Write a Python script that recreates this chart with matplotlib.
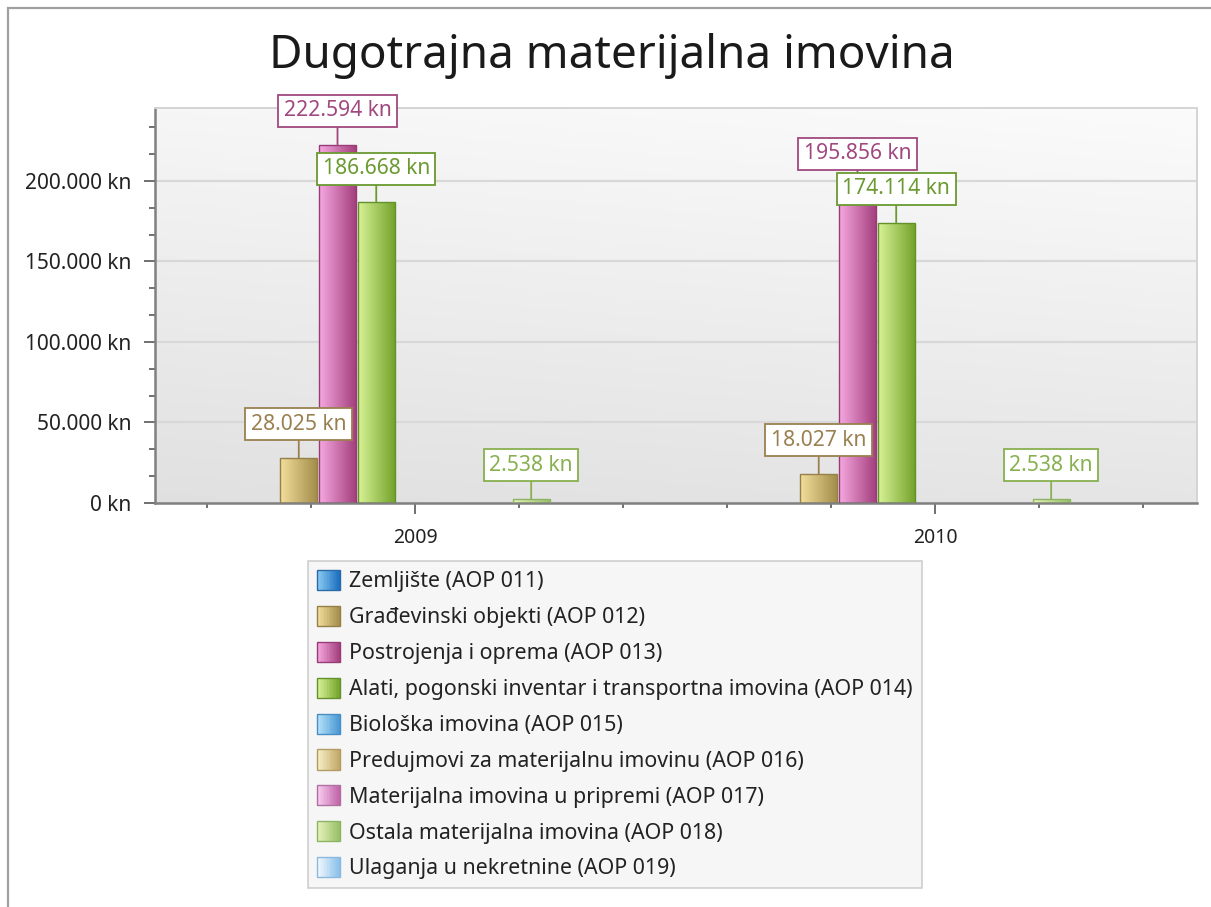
import numpy as np
import matplotlib
matplotlib.use("Agg")
import matplotlib.pyplot as plt
from matplotlib.patches import Rectangle, Patch
from matplotlib.legend_handler import HandlerBase
from matplotlib.ticker import FuncFormatter, MultipleLocator, FixedLocator
from matplotlib.colors import to_rgb

plt.rcParams['font.family'] = ['Noto Sans', 'DejaVu Sans']

# ---------------- data ----------------
title = "Dugotrajna materijalna imovina"
categories = ["2009", "2010"]
series_names = [
    "Zemljište (AOP 011)",
    "Građevinski objekti (AOP 012)",
    "Postrojenja i oprema (AOP 013)",
    "Alati, pogonski inventar i transportna imovina (AOP 014)",
    "Biološka imovina (AOP 015)",
    "Predujmovi za materijalnu imovinu (AOP 016)",
    "Materijalna imovina u pripremi (AOP 017)",
    "Ostala materijalna imovina (AOP 018)",
    "Ulaganja u nekretnine (AOP 019)",
]
zemljiste = [0, 0]
gradjevinski = [28025, 18027]
postrojenja = [222594, 195856]
alati = [186668, 174114]
bioloska = [0, 0]
predujmovi = [0, 0]
u_pripremi = [0, 0]
ostala = [2538, 2538]
ulaganja = [0, 0]
series_values = [zemljiste, gradjevinski, postrojenja, alati, bioloska,
                 predujmovi, u_pripremi, ostala, ulaganja]

# (left colour, right colour, edge colour, label colour)
styles = [
    ('#8ccbf2', '#1a6fc0', '#2a6aa8', '#2a6aa8'),
    ('#f3de9c', '#a48e4c', '#948048', '#9a8050'),
    ('#f6a8e0', '#a4407e', '#983c78', '#a0487e'),
    ('#d8f296', '#74a42c', '#64922a', '#6a9a30'),
    ('#b6e3f8', '#4a98d4', '#4a8cc4', '#4a8cc4'),
    ('#f8f0c6', '#c2a866', '#b29c66', '#b29c66'),
    ('#f8cef0', '#c064a8', '#b070a0', '#b070a0'),
    ('#e6f2ba', '#98c068', '#8cb464', '#88b050'),
    ('#f2f9fe', '#88c0ea', '#8cb8e0', '#8cb8e0'),
]

W, H, DPI = 1211, 907, 100
fig = plt.figure(figsize=(W / DPI, H / DPI), dpi=DPI)
fig.patch.set_facecolor('white')

def px(x0, y0, x1, y1):
    return [x0 / W, 1 - y1 / H, (x1 - x0) / W, (y1 - y0) / H]

# outer frame
fig.patches.append(Rectangle((8 / W, -0.1), 1.2, 1 - 8 / H + 0.1, transform=fig.transFigure,
                             fill=False, ec='#a0a0a0', lw=1.6, zorder=0))

pos = px(155, 108, 1197, 503)
bgax = fig.add_axes(pos, zorder=0)
yy, xx = np.mgrid[0:1:200j, 0:1:200j]
bgval = 0.985 - 0.085 * yy - 0.02 * (1 - xx)
bgax.imshow(np.dstack([bgval] * 3), extent=(0, 1, 0, 1), aspect='auto', origin='upper')
bgax.axis('off')

ax = fig.add_axes(pos, zorder=1)
ax.patch.set_alpha(0)

n = len(series_names)
slot = 0.0745
bw = 0.071
x = np.arange(len(categories))

def mix(c1, c2, t):
    a, b = np.array(to_rgb(c1)), np.array(to_rgb(c2))
    return a + (b - a) * t

for i, (vals, st) in enumerate(zip(series_values, styles)):
    off = (i - (n - 1) / 2) * slot
    lws = [1.0 if v > 0 else 0.0 for v in vals]
    bars = ax.bar(x + off, vals, width=bw, facecolor='none', edgecolor=st[2],
                  linewidth=lws, zorder=3)
    for b, v in zip(bars, vals):
        if v <= 0:
            continue
        x0, y0 = b.get_xy()
        grad = np.array([[mix(st[0], st[1], t) for t in np.linspace(0, 1, 64)]])
        im = ax.imshow(grad, extent=(x0, x0 + b.get_width(), y0, y0 + b.get_height()),
                       aspect='auto', zorder=2, interpolation='bilinear')
        im.set_clip_path(b)
        lab = f"{int(v):,}".replace(',', '.') + " kn"
        ax.annotate(lab, xy=(b.get_x() + b.get_width() / 2, v), xytext=(0, 16.8),
                    textcoords='offset points', ha='center', va='bottom',
                    fontsize=15.2, color=st[3], zorder=6,
                    bbox=dict(boxstyle='square,pad=0.26', fc='white', ec=st[3], lw=1.3),
                    arrowprops=dict(arrowstyle='-', color=st[3], lw=1.3,
                                    shrinkA=0, shrinkB=0))

ax.set_xlim(-0.5, 1.504)
ax.set_ylim(0, 245300)
ax.set_xticks(x)
ax.set_xticklabels(categories)
ax.xaxis.set_minor_locator(FixedLocator([-0.4, -0.2, 0.2, 0.4, 0.6, 0.8, 1.2, 1.4]))
ax.yaxis.set_major_locator(MultipleLocator(50000))
ax.yaxis.set_minor_locator(MultipleLocator(50000 / 3))
ax.yaxis.set_major_formatter(FuncFormatter(lambda v, p: f"{int(round(v)):,}".replace(',', '.') + " kn"))

ax.grid(axis='y', which='major', color='#d8d8d8', lw=1.6, zorder=1)
ax.set_axisbelow(True)

for s in ['left', 'bottom']:
    ax.spines[s].set_color('#808080')
    ax.spines[s].set_linewidth(1.8)
for s in ['top', 'right']:
    ax.spines[s].set_color('#d4d4d4')
    ax.spines[s].set_linewidth(1.4)

ax.tick_params(axis='y', which='major', length=8, width=1.4, color='#707070',
               labelsize=15, labelcolor='#222222', pad=9)
ax.tick_params(axis='y', which='minor', length=4, width=1.4, color='#707070')
ax.tick_params(axis='x', which='major', length=8, width=1.4, color='#707070',
               labelsize=14, labelcolor='#222222', pad=10)
ax.tick_params(axis='x', which='minor', length=3.5, width=1.4, color='#707070')

fig.text(612 / W, 1 - 68 / H, title, ha='center', va='baseline', fontsize=33, color='#1a1a1a')

# legend with gradient swatches
class GradHandler(HandlerBase):
    def __init__(self, c1, c2, ec):
        super().__init__()
        self.c1, self.c2, self.ec = c1, c2, ec

    def create_artists(self, legend, orig_handle, xdescent, ydescent, width, height, fontsize, trans):
        arts = []
        m = 16
        for k in range(m):
            arts.append(Rectangle((-xdescent + k * width / m, -ydescent), width / m + 0.3, height,
                                  fc=mix(self.c1, self.c2, k / (m - 1)), ec='none', transform=trans))
        arts.append(Rectangle((-xdescent, -ydescent), width, height, fill=False,
                              ec=self.ec, lw=1.0, transform=trans))
        return arts

handles = [Patch(label=nm) for nm in series_names]
hmap = {h: GradHandler(st[0], st[1], st[2]) for h, st in zip(handles, styles)}
leg_fs = 15.4
leg_px = leg_fs * DPI / 72
leg = fig.legend(handles=handles, handler_map=hmap, loc='upper left',
                 bbox_to_anchor=(308 / W, 1 - 561 / H), borderaxespad=0,
                 fontsize=leg_fs, frameon=True, fancybox=False,
                 handlelength=23 / leg_px, handleheight=23 / leg_px, handletextpad=9 / leg_px,
                 labelspacing=13.5 / leg_px, borderpad=9 / leg_px, labelcolor='#222222')
leg.get_frame().set_facecolor('#f4f4f4')
leg.get_frame().set_edgecolor('#c4c4c4')
leg.get_frame().set_linewidth(1.2)

fig.savefig("out.png", dpi=DPI)
